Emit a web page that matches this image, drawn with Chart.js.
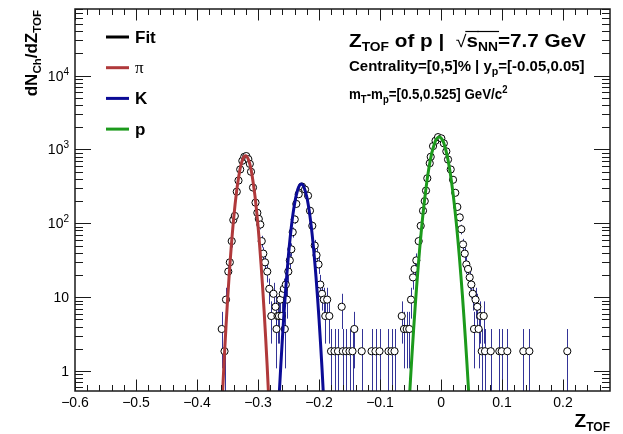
<!DOCTYPE html>
<html>
<head>
<meta charset="utf-8">
<script src="https://cdn.jsdelivr.net/npm/chart.js@4.4.1/dist/chart.umd.min.js"></script>
<style>
html,body{margin:0;padding:0;background:#fff}
#wrap{position:relative;width:623px;height:434px}
</style>
</head>
<body>
<div id="wrap"><canvas id="ztof"></canvas></div>
<script>
// Z_TOF histogram (bin centres and raw counts); each entry carries weight binWeight
const zBins = [
  -0.3595,-0.3549,-0.3525,-0.3487,-0.3462,-0.3431,-0.3405,-0.3380,-0.3348,-0.3320,
  -0.3292,-0.3257,-0.3225,-0.3192,-0.3159,-0.3134,-0.3115,-0.3082,-0.3041,-0.3011,
  -0.2987,-0.2962,-0.2939,-0.2913,-0.2885,-0.2848,-0.2815,-0.2782,-0.2746,-0.2713,
  -0.2697,-0.2680,-0.2656,-0.2634,-0.2611,-0.2595,-0.2577,-0.2561,-0.2544,-0.2525,
  -0.2503,-0.2479,-0.2454,-0.2431,-0.2398,-0.2372,-0.2333,-0.2279,-0.2229,-0.2180,
  -0.2148,-0.2110,-0.2070,-0.2041,-0.2008,-0.1979,-0.1951,-0.1921,-0.1897,-0.1866,
  -0.1831,-0.1803,-0.1746,-0.1689,-0.1628,-0.1610,-0.1557,-0.1500,-0.1451,-0.1421,
  -0.1300,-0.1139,-0.1074,-0.1008,-0.0861,-0.0811,-0.0762,-0.0644,-0.0607,-0.0562,
  -0.0520,-0.0492,-0.0459,-0.0434,-0.0405,-0.0366,-0.0333,-0.0295,-0.0267,-0.0246,
  -0.0225,-0.0185,-0.0169,-0.0131,-0.0090,-0.0049,0.0005,0.0046,0.0087,0.0115,
  0.0159,0.0197,0.0234,0.0267,0.0307,0.0333,0.0361,0.0389,0.0415,0.0443,
  0.0470,0.0497,0.0520,0.0541,0.0566,0.0595,0.0616,0.0645,0.0667,0.0700,
  0.0721,0.0815,0.0956,0.0995,0.1087,0.1349,0.1448,0.2070
];
const zCounts = [
  2,1,5,12,16,31,60,68,145,205,
  290,380,430,440,400,345,270,165,103,75,
  62,52,31,21,16,12,7,3,6,4,
  2,3,3,5,3,6,7,2,8,5,
  12,17,24,41,61,99,134,170,155,128,
  80,50,27,20,15,8,6,5,3,5,
  3,1,1,1,4,1,1,1,1,2,
  1,1,1,1,1,1,1,3,2,2,
  2,5,10,13,17,31,50,80,108,150,
  220,352,430,600,710,795,765,655,510,395,
  290,210,140,90,65,45,28,21,15,13,
  10,8,6,2,5,4,2,3,1,3,
  1,1,1,1,1,1,1,1
];
const binWeight = 1.85;

// Gaussian fits for pi, K and p, sampled along Z_TOF
const piFitX = [-0.360,-0.355,-0.350,-0.345,-0.340,-0.335,-0.330,-0.3275,-0.325,-0.3225,-0.320,-0.3175,-0.315,-0.3125,-0.310,-0.305,-0.300,-0.295,-0.290,-0.285,-0.280];
const piFitY = [0.24,1.67,8.9,36.1,114,275,514,637,740,805,822,784,702,590,463,235,92.3,27.8,6.5,1.17,0.16];
const kFitX = [-0.270,-0.265,-0.260,-0.255,-0.250,-0.245,-0.240,-0.235,-0.2325,-0.230,-0.2275,-0.225,-0.220,-0.215,-0.210,-0.205,-0.200,-0.195,-0.190];
const kFitY = [0.076,0.523,2.79,11.6,37.6,94.8,186,285,321,339,337,315,227,128,56.1,19.1,5.09,1.05,0.17];
const pFitX = [-0.055,-0.050,-0.045,-0.040,-0.035,-0.030,-0.025,-0.020,-0.015,-0.010,-0.0075,-0.005,-0.0025,0.000,0.0025,0.005,0.010,0.015,0.020,0.025,0.030,0.035,0.040,0.045,0.050];
const pFitY = [0.145,0.78,3.58,13.8,44.9,123,283,552,905,1252,1381,1460,1480,1435,1335,1190,831,489,243,102,35.9,10.7,2.68,0.57,0.10];

const xMajor = [-0.6,-0.5,-0.4,-0.3,-0.2,-0.1,0,0.1,0.2];
const xMajorLabels = ['\u22120.6','\u22120.5','\u22120.4','\u22120.3','\u22120.2','\u22120.1','0','0.1','0.2'];
const yDecades = [1,10,100,1000,10000];
const yDecadeLabels = [['1',''],['10',''],['10','2'],['10','3'],['10','4']];

const legendItems = [
  {label:'Fit', color:'#000000', serif:false},
  {label:'\u03c0', color:'#b0393b', serif:true},
  {label:'K', color:'#0b0b96', serif:false},
  {label:'p', color:'#1c9a1c', serif:false}
];

const FONT = '"Liberation Sans", Arial, Helvetica, sans-serif';

function font(size, bold){ return (bold ? 'bold ' : '') + size + 'px ' + FONT; }

// draw a run of text segments [text, size, bold, dy, overline]; sx stretches horizontally
function richText(ctx, x, y, segs, align, sx){
  sx = sx || 1;
  let w = 0;
  segs.forEach(s => { ctx.font = font(s[1], s[2]); w += ctx.measureText(s[0]).width; });
  const x0 = align === 'right' ? x - w * sx : x;
  ctx.save();
  ctx.translate(x0, y);
  ctx.scale(sx, 1);
  ctx.textAlign = 'left';
  ctx.textBaseline = 'alphabetic';
  let cx = 0;
  segs.forEach(s => {
    ctx.font = font(s[1], s[2]);
    const sw = ctx.measureText(s[0]).width;
    ctx.fillText(s[0], cx, s[3] || 0);
    if (s[4]) {
      ctx.beginPath();
      ctx.lineWidth = 1.2;
      ctx.moveTo(cx - 1, -15.5);
      ctx.lineTo(cx + sw + 1, -15.5);
      ctx.stroke();
    }
    cx += sw;
  });
  ctx.restore();
  return w * sx;
}

const rootFrame = {
  id: 'rootFrame',
  beforeDatasetsDraw(chart){
    const {ctx, chartArea:a, scales:{x, y}} = chart;
    ctx.save();
    ctx.beginPath();
    ctx.rect(a.left, a.top, a.right - a.left, a.bottom - a.top);
    ctx.clip();
    ctx.strokeStyle = 'rgba(30,30,140,0.9)';
    ctx.lineWidth = 1;
    zBins.forEach((z, i) => {
      const n = zCounts[i];
      const v = n * binWeight, e = Math.sqrt(n) * binWeight;
      const px = Math.round(x.getPixelForValue(z)) + 0.5;
      const hi = y.getPixelForValue(v + e);
      const lo = v - e > 0 ? y.getPixelForValue(v - e) : a.bottom;
      ctx.beginPath();
      ctx.moveTo(px, lo);
      ctx.lineTo(px, hi);
      ctx.stroke();
    });
    ctx.restore();
  },
  afterDatasetsDraw(chart){
    const {ctx, chartArea:a, scales:{x, y}} = chart;
    ctx.save();
    ctx.strokeStyle = '#1a1a1a';
    ctx.fillStyle = '#000';
    ctx.lineWidth = 1.5;
    ctx.strokeRect(a.left, a.top, a.right - a.left, a.bottom - a.top);

    // x ticks, bottom and top
    ctx.lineWidth = 1;
    const xt = (v, len) => {
      const px = Math.round(x.getPixelForValue(v)) + 0.5;
      ctx.beginPath();
      ctx.moveTo(px, a.bottom); ctx.lineTo(px, a.bottom - len);
      ctx.moveTo(px, a.top); ctx.lineTo(px, a.top + len);
      ctx.stroke();
    };
    for (let i = 0; i <= 44; i++) {
      const v = -0.6 + i * 0.02;
      if (v > x.max) break;
      xt(v, i % 5 === 0 ? 11.5 : 6);
    }
    // y ticks, left and right (log)
    const yt = (v, len) => {
      const py = Math.round(y.getPixelForValue(v)) + 0.5;
      ctx.beginPath();
      ctx.moveTo(a.left, py); ctx.lineTo(a.left + len, py);
      ctx.moveTo(a.right, py); ctx.lineTo(a.right - len, py);
      ctx.stroke();
    };
    for (let d = 0.1; d <= 1e5; d *= 10) {
      for (let m = 1; m <= 9; m++) {
        const v = m * d;
        if (v < y.min || v > y.max) continue;
        yt(v, m === 1 ? 16 : 8);
      }
    }

    // tick labels
    ctx.font = font(14, false);
    ctx.textAlign = 'center';
    ctx.textBaseline = 'top';
    xMajor.forEach((v, i) => ctx.fillText(xMajorLabels[i], x.getPixelForValue(v), a.bottom + 5));
    yDecades.forEach((v, i) => {
      const py = y.getPixelForValue(v);
      const [base, sup] = yDecadeLabels[i];
      const segs = [[base, 14, false, 5]];
      if (sup) segs.push([sup, 10, false, -1]);
      richText(ctx, a.left - 6, py, segs, 'right');
    });

    // axis titles
    richText(ctx, a.right, 427, [['Z', 19, true, 0], ['TOF', 12, true, 4]], 'right');
    ctx.save();
    ctx.translate(37, 10);
    ctx.rotate(-Math.PI / 2);
    richText(ctx, 0, 0, [['dN', 17, true, 0], ['Ch', 11.5, true, 4], ['/dZ', 17, true, 0], ['TOF', 11.5, true, 4]], 'right');
    ctx.restore();

    // legend
    legendItems.forEach((it, i) => {
      const cy = 37 + i * 30.7;
      ctx.strokeStyle = it.color;
      ctx.lineWidth = 3;
      ctx.beginPath();
      ctx.moveTo(106, cy); ctx.lineTo(129, cy);
      ctx.stroke();
      ctx.fillStyle = '#000';
      ctx.textAlign = 'left';
      ctx.textBaseline = 'middle';
      ctx.font = it.serif ? '17px "Liberation Serif", serif' : font(17, true);
      ctx.fillText(it.label, 135, cy + 1);
    });

    // annotation
    ctx.fillStyle = '#000';
    ctx.strokeStyle = '#000';
    richText(ctx, 349, 47, [
      ['Z', 18, true, 0], ['TOF', 12, true, 4], [' of p |  ', 18, true, 0],
      ['\u221a', 17, false, 0], ['s', 18, true, 0, true], ['NN', 12, true, 4, true],
      ['=7.7 GeV', 18, true, 0]
    ], 'left', 1.15);
    richText(ctx, 349, 71, [
      ['Centrality=[0,5]% | y', 14, true, 0], ['p', 10, true, 4], ['=[-0.05,0.05]', 14, true, 0]
    ], 'left', 1.07);
    richText(ctx, 349, 99, [
      ['m', 14, true, 0], ['T', 10, true, 4], ['-m', 14, true, 0], ['p', 10, true, 4],
      ['=[0.5,0.525] GeV/c', 14, true, 0], ['2', 10, true, -6]
    ], 'left', 0.95);
    ctx.restore();
  }
};

const toXY = (xs, ys) => xs.map((v, i) => ({x: v, y: ys[i]}));
const fitLine = (xs, ys, color) => ({
  data: toXY(xs, ys), showLine: true, borderColor: color, borderWidth: 3,
  pointRadius: 0, tension: 0.3, order: 0
});

new Chart(document.getElementById('ztof'), {
  type: 'scatter',
  data: {
    datasets: [
      {
        data: zBins.map((z, i) => ({x: z, y: zCounts[i] * binWeight})),
        pointRadius: 3.6, pointBackgroundColor: '#fff', pointBorderColor: '#000',
        pointBorderWidth: 1, order: 1
      },
      fitLine(piFitX, piFitY, legendItems[1].color),
      fitLine(kFitX, kFitY, legendItems[2].color),
      fitLine(pFitX, pFitY, legendItems[3].color)
    ]
  },
  options: {
    responsive: true,
    maintainAspectRatio: false,
    devicePixelRatio: 1,
    animation: false,
    layout: {padding: {left: 75, right: 13, top: 9, bottom: 43}},
    plugins: {legend: {display: false}, tooltip: {enabled: false}},
    scales: {
      x: {type: 'linear', min: -0.6, max: 0.277, display: false},
      y: {type: 'logarithmic', min: 0.535, max: 80000, display: false}
    }
  },
  plugins: [rootFrame]
});
</script>
</body>
</html>
